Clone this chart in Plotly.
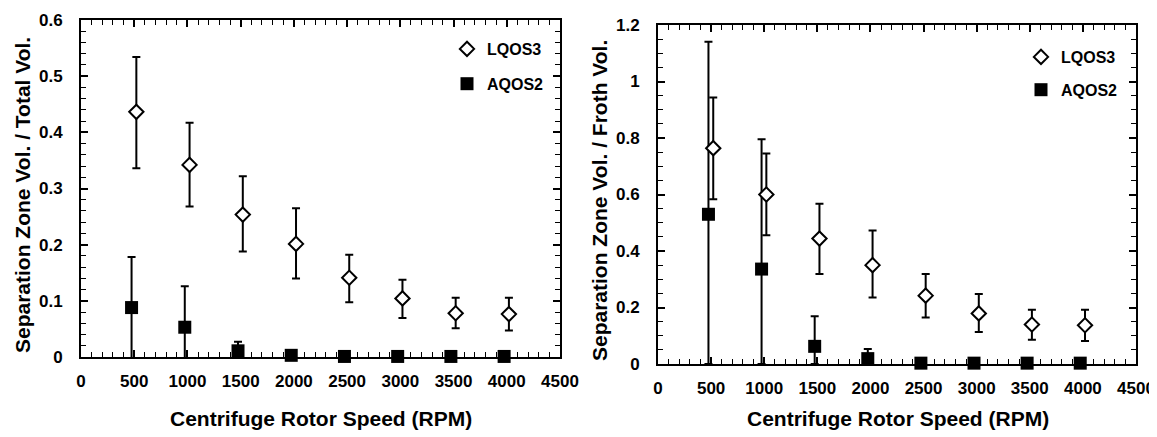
import plotly.graph_objects as go

# ---------------- data ----------------
rpm = [500, 1000, 1500, 2000, 2500, 3000, 3500, 4000]
# plotted x positions (series drawn slightly offset from nominal speed)
x_lqos3 = [520, 1020, 1520, 2020, 2520, 3020, 3520, 4020]
x_aqos2 = [475, 975, 1475, 1975, 2475, 2975, 3475, 3975]

# Left panel: Separation zone vol / total vol
left_lqos3 = [0.4365, 0.342, 0.2535, 0.2014, 0.141, 0.1043, 0.078, 0.0764]
left_lqos3_hi = [0.534, 0.417, 0.3216, 0.2647, 0.182, 0.1375, 0.1055, 0.1055]
left_lqos3_lo = [0.336, 0.268, 0.188, 0.1398, 0.0977, 0.0693, 0.051, 0.0474]
left_aqos2 = [0.088, 0.053, 0.011, 0.003, 0.001, 0.001, 0.001, 0.001]
left_aqos2_hi = [0.178, 0.126, 0.027, 0.003, 0.001, 0.001, 0.001, 0.001]
left_aqos2_lo = [-0.004, -0.012, -0.006, 0.003, 0.001, 0.001, 0.001, 0.001]

# Right panel: Separation zone vol / froth vol
right_lqos3 = [0.764, 0.600, 0.444, 0.350, 0.242, 0.179, 0.140, 0.137]
right_lqos3_hi = [0.943, 0.745, 0.567, 0.473, 0.319, 0.2476, 0.192, 0.192]
right_lqos3_lo = [0.5835, 0.456, 0.319, 0.235, 0.165, 0.113, 0.086, 0.081]
right_aqos2 = [0.53, 0.336, 0.0625, 0.019, 0.003, 0.003, 0.003, 0.003]
right_aqos2_hi = [1.141, 0.796, 0.169, 0.053, 0.003, 0.003, 0.003, 0.003]
right_aqos2_lo = [0.0, 0.0, 0.0, -0.02, 0.003, 0.003, 0.003, 0.003]

x_ticks = [0, 500, 1000, 1500, 2000, 2500, 3000, 3500, 4000, 4500]
left_y_ticks = [0, 0.1, 0.2, 0.3, 0.4, 0.5, 0.6]
right_y_ticks = [0, 0.2, 0.4, 0.6, 0.8, 1, 1.2]

x_title = "Centrifuge Rotor Speed (RPM)"
left_y_title = "Separation Zone Vol. / Total Vol."
right_y_title = "Separation Zone Vol. / Froth Vol."

FONT = "Liberation Sans, Arial, sans-serif"


def errs(v, hi, lo):
    plus = [max(h - a, 0) for a, h in zip(v, hi)]
    minus = [max(a - l, 0) for a, l in zip(v, lo)]
    return plus, minus


fig = go.Figure()


def add_panel(xa, ya, legend, lq, lq_hi, lq_lo, aq, aq_hi, aq_lo):
    p, m = errs(aq, aq_hi, aq_lo)
    fig.add_trace(go.Scatter(
        x=x_aqos2, y=aq, mode="markers", name="AQOS2",
        xaxis=xa, yaxis=ya, legend=legend, legendgroup=legend + "a",
        legendrank=2, cliponaxis=False,
        marker=dict(symbol="square", size=13, color="black",
                    line=dict(color="black", width=0)),
        error_y=dict(type="data", symmetric=False, array=p, arrayminus=m,
                     color="black", thickness=2, width=4),
    ))
    p, m = errs(lq, lq_hi, lq_lo)
    fig.add_trace(go.Scatter(
        x=x_lqos3, y=lq, mode="markers", name="LQOS3",
        xaxis=xa, yaxis=ya, legend=legend, legendgroup=legend + "l",
        legendrank=1, cliponaxis=False,
        marker=dict(symbol="diamond", size=11, color="white",
                    line=dict(color="black", width=2)),
        error_y=dict(type="data", symmetric=False, array=p, arrayminus=m,
                     color="black", thickness=2, width=4),
    ))


add_panel("x", "y", "legend", left_lqos3, left_lqos3_hi, left_lqos3_lo,
          left_aqos2, left_aqos2_hi, left_aqos2_lo)
add_panel("x2", "y2", "legend2", right_lqos3, right_lqos3_hi, right_lqos3_lo,
          right_aqos2, right_aqos2_hi, right_aqos2_lo)

# page body has an 8px margin; the figure is sized to fit the window
OFF = 8
W, H = 1157 - OFF, 437 - OFF


def px_x(p):
    return (p - OFF) / W


def px_y(p):
    return (H - (p - OFF)) / H


tickfont = dict(family=FONT, size=17, color="black", weight="bold")


def xaxis(domain, anchor):
    return dict(
        domain=domain, anchor=anchor, range=[0, 4500],
        tickmode="array", tickvals=x_ticks, ticktext=[str(t) for t in x_ticks],
        ticks="inside", ticklen=7, tickwidth=1.5, tickcolor="black",
        minor=dict(tickmode="linear", tick0=0, dtick=100, ticks="inside",
                   ticklen=5, tickwidth=1.3, tickcolor="black", showgrid=False),
        showline=True, linecolor="black", linewidth=2, mirror="allticks",
        showgrid=False, zeroline=False, tickfont=tickfont,
        ticklabelstandoff=8, ticklabeloverflow="allow",
        layer="above traces", automargin=False,
    )


def yaxis(domain, anchor, rng, ticks, minor):
    return dict(
        domain=domain, anchor=anchor, range=rng,
        tickmode="array", tickvals=ticks, ticktext=[("%g" % t) for t in ticks],
        ticks="inside", ticklen=7, tickwidth=1.5, tickcolor="black",
        minor=dict(tickmode="linear", tick0=0, dtick=minor, ticks="inside",
                   ticklen=5, tickwidth=1.3, tickcolor="black", showgrid=False),
        showline=True, linecolor="black", linewidth=2, mirror="allticks",
        showgrid=False, zeroline=False, tickfont=tickfont,
        ticklabelstandoff=13, ticklabeloverflow="allow",
        layer="above traces", automargin=False,
    )


legend_font = dict(family=FONT, size=16, color="black", weight="bold")

fig.update_layout(
    width=W, height=H,
    margin=dict(l=0, r=0, t=0, b=0, autoexpand=False),
    paper_bgcolor="white", plot_bgcolor="white",
    font=dict(family=FONT, size=16, color="black", weight="bold"),
    xaxis=xaxis([px_x(81), px_x(560)], "y"),
    yaxis=yaxis([px_y(357), px_y(20)], "x", [0, 0.6], left_y_ticks, 0.02),
    xaxis2=xaxis([px_x(658), px_x(1136)], "y2"),
    yaxis2=yaxis([px_y(364), px_y(25)], "x2", [0, 1.2], right_y_ticks, 0.05),
    legend=dict(x=px_x(447), y=px_y(32), xanchor="left", yanchor="top",
                bgcolor="rgba(0,0,0,0)", traceorder="grouped",
                tracegroupgap=11, font=legend_font),
    legend2=dict(x=px_x(1021), y=px_y(40), xanchor="left", yanchor="top",
                 bgcolor="rgba(0,0,0,0)", traceorder="grouped",
                 tracegroupgap=9, font=legend_font),
    showlegend=True,
)

title_font = dict(family=FONT, size=21, color="black", weight="bold")
fig.add_annotation(text=x_title, xref="paper", yref="paper",
                   x=px_x(321), y=px_y(418), showarrow=False, font=title_font,
                   xanchor="center", yanchor="middle")
fig.add_annotation(text=x_title, xref="paper", yref="paper",
                   x=px_x(898), y=px_y(418), showarrow=False, font=title_font,
                   xanchor="center", yanchor="middle")
fig.add_annotation(text=left_y_title, xref="paper", yref="paper",
                   x=px_x(22), y=px_y(195), showarrow=False, font=title_font,
                   textangle=-90, xanchor="center", yanchor="middle")
fig.add_annotation(text=right_y_title, xref="paper", yref="paper",
                   x=px_x(599), y=px_y(201), showarrow=False, font=title_font,
                   textangle=-90, xanchor="center", yanchor="middle")

fig.write_html("out.html")
